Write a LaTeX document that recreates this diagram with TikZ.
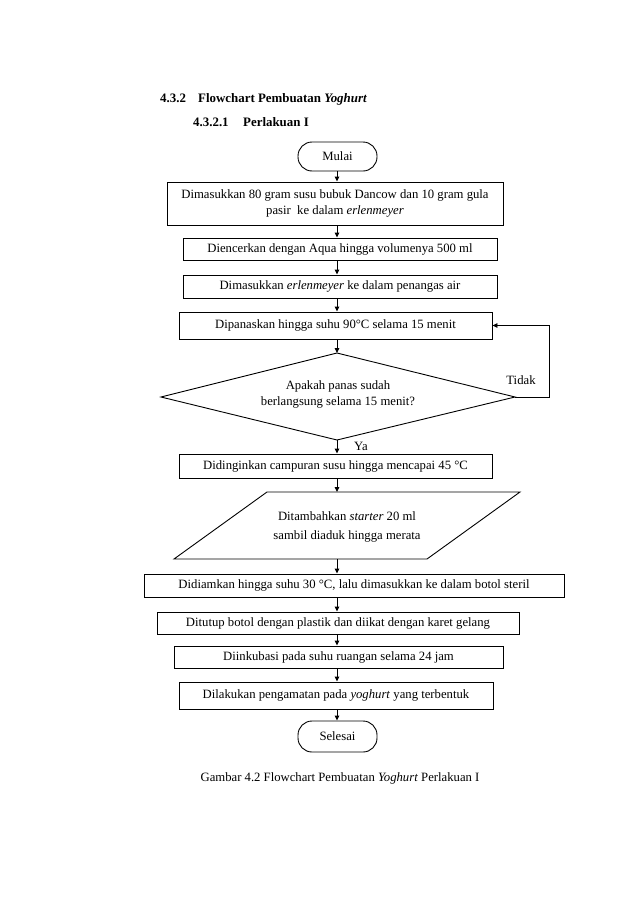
\documentclass[tikz,border=0pt]{standalone}
\usepackage{fontspec}
\setmainfont{Liberation Serif}
\usetikzlibrary{arrows.meta}
\tikzset{
  procbox/.style={draw, line width=0.9pt, rectangle, inner sep=0pt, align=center},
  termbox/.style={draw, line width=0.9pt, rectangle, rounded corners=14pt, inner sep=0pt, minimum width=79pt},
  arr/.style={draw, line width=0.9pt, -{Triangle[length=5pt,width=4.5pt]}},
  plain/.style={inner sep=0pt, align=center},
  headtext/.style={inner sep=0pt, anchor=base west, font=\fontsize{12.9}{16}\selectfont\bfseries},
  shapeline/.style={draw, line width=0.9pt, line join=miter}
}
\begin{document}
\begin{tikzpicture}[x=1pt,y=-1pt,font=\fontsize{12.7}{16}\selectfont]
\path[fill=white] (0,0) rectangle (638,902);
\useasboundingbox (0,0) rectangle (638,902);

% headings
\node[headtext] (h1a) at (160,102.5) {4.3.2};
\node[headtext] (h1b) at (198,102.5) {Flowchart Pembuatan \textit{Yoghurt}};
\node[headtext] (h2a) at (193,126.5) {4.3.2.1};
\node[headtext] (h2b) at (243,126.5) {Perlakuan I};

\coordinate (ax) at (337,0);

% nodes
\node[termbox, minimum height=29pt] (mulai) at (337.5,156.5) {Mulai};
\node[procbox, minimum width=336pt, minimum height=43pt] (b1) at (335,203.5)
  {Dimasukkan 80 gram susu bubuk Dancow dan 10 gram gula\\pasir\ \ ke dalam \textit{erlenmeyer}};
\node[procbox, minimum width=314pt, minimum height=22pt] (b2) at (340,249) {Diencerkan dengan Aqua hingga volumenya 500 ml};
\node[procbox, minimum width=314pt, minimum height=23pt] (b3) at (340,286.5) {Dimasukkan \textit{erlenmeyer} ke dalam penangas air};
\node[procbox, minimum width=313pt, minimum height=27pt] (b4) at (335.5,325.5) {Dipanaskan hingga suhu 90°C selama 15 menit};

% decision
\coordinate (dtop) at (337,353);
\coordinate (dleft) at (161,397);
\coordinate (dright) at (515,397);
\coordinate (dbot) at (337,440);
\draw[shapeline] (dtop) -- (dright) -- (dbot) -- (dleft) -- cycle;
\node[plain] (dtext) at (338,394) {Apakah panas sudah\\berlangsung selama 15 menit?};
\node[plain] (tidak) at (521,380) {Tidak};
\node[plain] (ya) at (361,446) {Ya};

\node[procbox, minimum width=313pt, minimum height=24pt] (b5) at (335.5,466) {Didinginkan campuran susu hingga mencapai 45 °C};

% parallelogram
\coordinate (ptl) at (267,492);
\coordinate (ptr) at (520,492);
\coordinate (pbr) at (427,559);
\coordinate (pbl) at (174,559);
\draw[shapeline] (ptl) -- (ptr) -- (pbr) -- (pbl) -- cycle;
\coordinate (ptop) at (337,492);
\coordinate (pbot) at (337,559);
\node[plain] (ptext) at (347,526.5) {Ditambahkan \textit{starter} 20 ml\\[3pt]sambil diaduk hingga merata};

\node[procbox, minimum width=420pt, minimum height=23pt] (b6) at (354,585.5) {Didiamkan hingga suhu 30 °C, lalu dimasukkan ke dalam botol steril};
\node[procbox, minimum width=362pt, minimum height=22pt] (b7) at (338,623) {Ditutup botol dengan plastik dan diikat dengan karet gelang};
\node[procbox, minimum width=329pt, minimum height=22pt] (b8) at (338.5,657) {Diinkubasi pada suhu ruangan selama 24 jam};
\node[procbox, minimum width=314pt, minimum height=27pt] (b9) at (336,695.5) {Dilakukan pengamatan pada \textit{yoghurt} yang terbentuk};
\node[termbox, minimum height=31pt] (selesai) at (337.5,736.5) {Selesai};

\node[plain] (caption) at (340,778) {Gambar 4.2 Flowchart Pembuatan \textit{Yoghurt} Perlakuan I};

% connectors
\draw[arr] (mulai.south -| ax) -- (b1.north -| ax);
\draw[arr] (b1.south -| ax) -- (b2.north -| ax);
\draw[arr] (b2.south -| ax) -- (b3.north -| ax);
\draw[arr] (b3.south -| ax) -- (b4.north -| ax);
\draw[arr] (b4.south -| ax) -- (dtop);
\draw[arr] (dbot) -- (b5.north -| ax);
\draw[arr] (b5.south -| ax) -- (ptop);
\draw[arr] (pbot) -- (b6.north -| ax);
\draw[arr] (b6.south -| ax) -- (b7.north -| ax);
\draw[arr] (b7.south -| ax) -- (b8.north -| ax);
\draw[arr] (b8.south -| ax) -- (b9.north -| ax);
\draw[arr] (b9.south -| ax) -- (selesai.north -| ax);
\coordinate (loop) at (549,325.5);
\draw[arr] (dright) -| (loop) -- (b4.east);
\end{tikzpicture}
\end{document}
